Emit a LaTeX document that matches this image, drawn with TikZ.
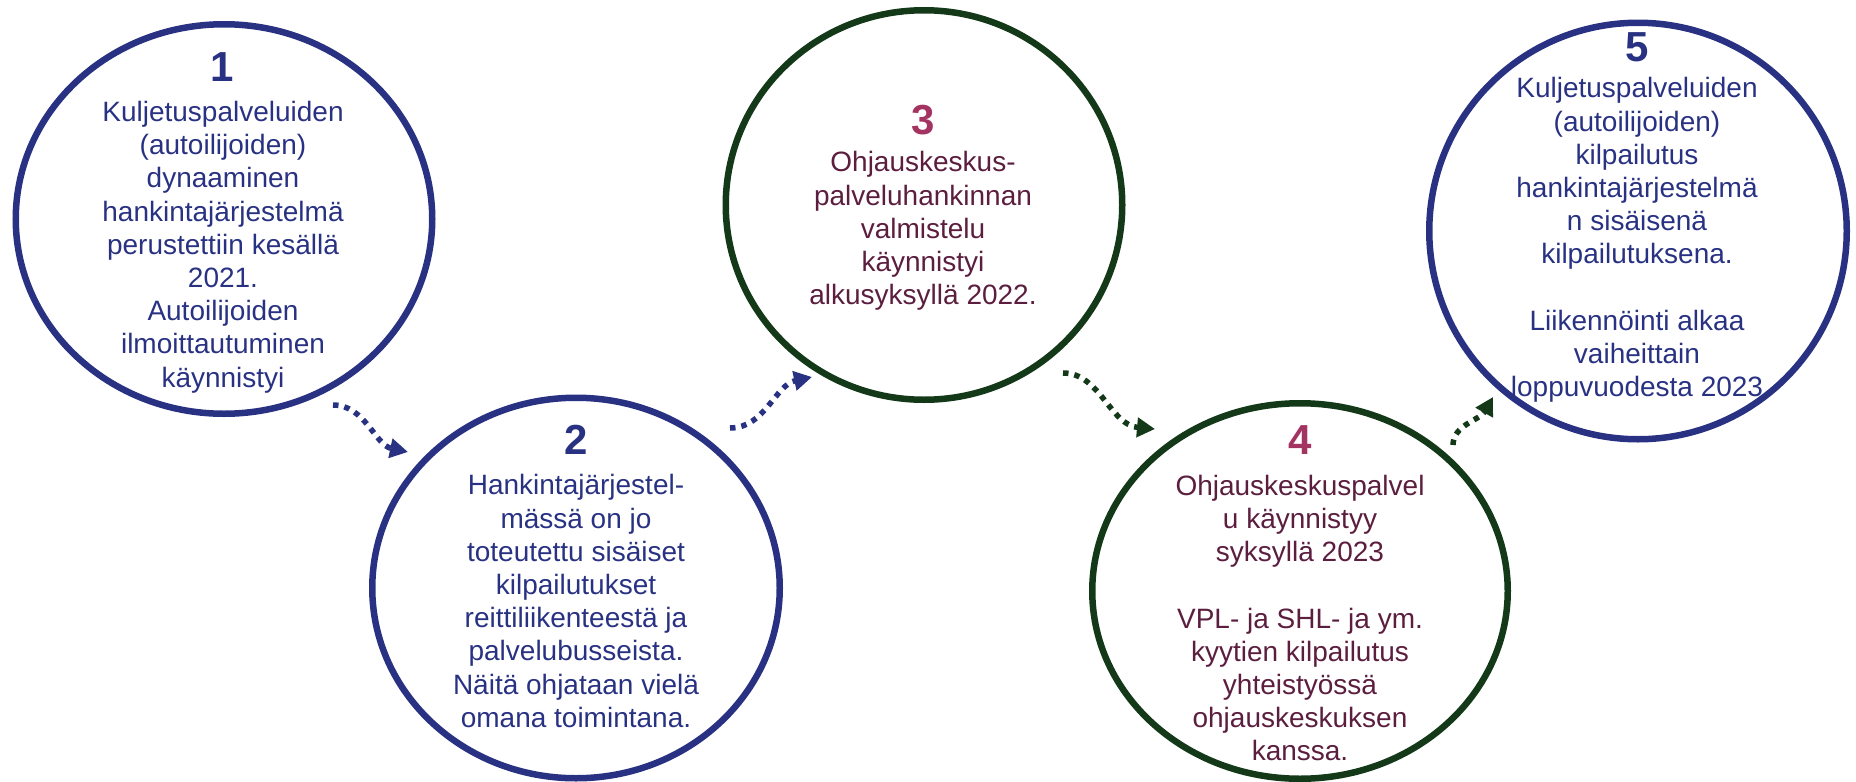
\documentclass[tikz,border=0pt]{standalone}
\usepackage{fontspec}
\setmainfont{Liberation Sans}
\usepackage{tikz}
\usetikzlibrary{positioning, arrows.meta, shapes.geometric}

\definecolor{navyc}{RGB}{41,50,130}
\definecolor{forestc}{RGB}{20,57,25}
\definecolor{plumc}{RGB}{92,30,62}
\definecolor{rosec}{RGB}{163,52,98}

\begin{document}
\begin{tikzpicture}[x=1pt, y=-1pt,
        stage/.style={draw=#1, ellipse, line width=6.5pt, inner sep=0pt, outer sep=0pt},
        stagenum/.style={text=#1, font=\bfseries\fontsize{42}{42}\selectfont, inner sep=0pt},
        stagetxt/.style={text=#1, align=center, font=\fontsize{28}{33.2}\selectfont, inner sep=0pt},
        hop/.style={draw=#1, line width=5.5pt, dash pattern=on 5.5pt off 6pt, -{Triangle[length=18pt, width=19pt, fill=#1]}}]
    \useasboundingbox (0,0) rectangle (1856,782);
    % circles
    \node[stage=navyc, minimum width=416.5pt, minimum height=389.5pt] (c1) at (224,219) {};
    \node[stage=navyc, minimum width=407.5pt, minimum height=380.5pt] (c2) at (576,588) {};
    \node[stage=forestc, minimum width=396.5pt, minimum height=389.5pt] (c3) at (924,205) {};
    \node[stage=forestc, minimum width=415.5pt, minimum height=375.5pt] (c4) at (1300,591) {};
    \node[stage=navyc, minimum width=417.5pt, minimum height=416.5pt] (c5) at (1638,231) {};
    % numbers
    \node[stagenum=navyc] (n1) at (222,67) {1};
    \node[stagenum=navyc] (n2) at (576,440) {2};
    \node[stagenum=rosec] (n3) at (923,120) {3};
    \node[stagenum=rosec] (n4) at (1300,440) {4};
    \node[stagenum=navyc] (n5) at (1637,47) {5};
    % texts
    \node[stagetxt=navyc] (t1) at (223,247) {Kuljetuspalveluiden\\(autoilijoiden)\\dynaaminen\\hankintajärjestelmä\\perustettiin kesällä\\2021.\\Autoilijoiden\\ilmoittautuminen\\käynnistyi};
    \node[stagetxt=navyc] (t2) at (576,601) {Hankintajärjestel-\\mässä on jo\\toteutettu sisäiset\\kilpailutukset\\reittiliikenteestä ja\\palvelubusseista.\\Näitä ohjataan vielä\\omana toimintana.};
    \node[stagetxt=plumc] (t3) at (923,231) {Ohjauskeskus-\\palveluhankinnan\\valmistelu\\käynnistyi\\alkusyksyllä 2022.};
    \node[stagetxt=plumc] (t4) at (1300,618) {Ohjauskeskuspalvel\\u käynnistyy\\syksyllä 2023\\[33.2pt]VPL- ja SHL- ja ym.\\kyytien kilpailutus\\yhteistyössä\\ohjauskeskuksen\\kanssa.};
    \node[stagetxt=navyc] (t5) at (1637,240) {Kuljetuspalveluiden\\(autoilijoiden)\\kilpailutus\\hankintajärjestelmä\\n sisäisenä\\kilpailutuksena.\\[33.2pt]Liikennöinti alkaa\\vaiheittain\\loppuvuodesta 2023};
    % arrow ends
    \coordinate (a12s) at (333,405);
    \coordinate (a12e) at (408,452);
    \coordinate (a23s) at (730,428);
    \coordinate (a23e) at (812,377);
    \coordinate (a34s) at (1063,373);
    \coordinate (a34e) at (1155,429);
    \coordinate (a45s) at (1453,445);
    \coordinate (a45e) at (1493,397);
    \draw[hop=navyc] (a12s) .. controls (365,405) and (375,445) .. (a12e);
    \draw[hop=navyc] (a23s) .. controls (765,428) and (775,385) .. (a23e);
    \draw[hop=forestc] (a34s) .. controls (1100,373) and (1110,425) .. (a34e);
    \draw[hop=forestc] (a45s) .. controls (1453,425) and (1480,420) .. (a45e);
\end{tikzpicture}
\end{document}
